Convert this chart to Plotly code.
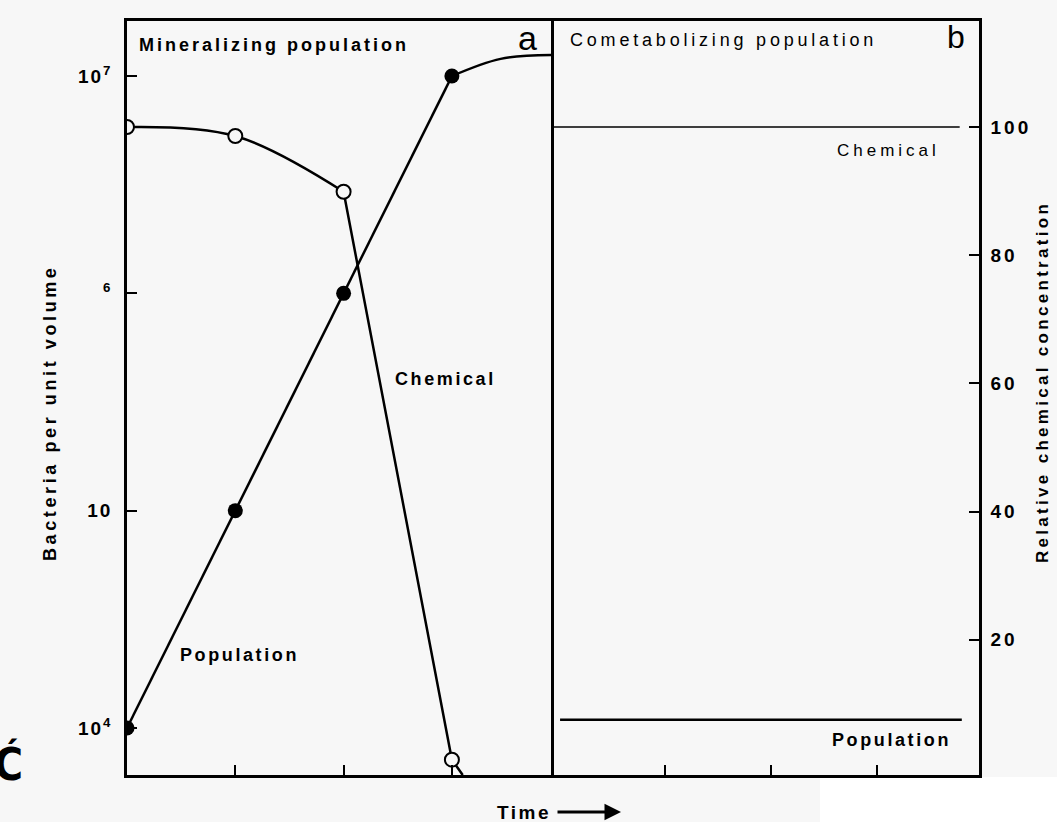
import plotly.graph_objects as go

# ---------------- data ----------------
# Panel a: mineralizing population
pop_a_time = [0, 1, 2, 3, 3.45, 3.915]
pop_a_vals = [1e4, 1e5, 1e6, 1e7, 1.2e7, 1.25e7]
pop_a_mark_time = [0, 1, 2, 3]
pop_a_mark_vals = [1e4, 1e5, 1e6, 1e7]

chem_a_time = [0, 1, 2, 3, 3.1]
chem_a_vals = [100, 98.6, 89.9, 1.3, -1.1]
chem_a_mark_time = [0, 1, 2, 3]
chem_a_mark_vals = [100, 98.6, 89.9, 1.3]

# Panel b: cometabolizing population
chem_b_time = [-0.075, 3.78]
chem_b_vals = [100, 100]
pop_b_time = [0.01, 3.8]
pop_b_vals = [1.09e4, 1.09e4]

left_tickvals = [1e4, 1e5, 1e6, 1e7]
left_ticklabels = ["10<sup>4</sup>", "10", "<sup>6</sup>", "10<sup>7</sup>"]
right_tickvals = [20, 40, 60, 80, 100]
right_ticklabels = ["20", "40", "60", "80", "100"]
time_ticks = [1, 2, 3]

# ---------------- layout geometry ----------------
FW, FH = 1057, 822
L, R, T, B = 127, 979, 21, 775
W, H = R - L, B - T
DIV = 551
da = (DIV - L) / W

BG = "#f7f7f7"
FONT = "Liberation Sans"


def px(x):
    return (x - L) / W


def py(y):
    return (B - y) / H


def sp(text, ls):
    return f'<span style="letter-spacing:{ls}px">{text}</span>'


fig = go.Figure()

line_style = dict(color="black", width=2.5)

# population (panel a): straight rise then curved plateau
fig.add_trace(go.Scatter(x=pop_a_time[:4], y=pop_a_vals[:4], xaxis="x", yaxis="y",
                         mode="lines", line=line_style,
                         showlegend=False, hoverinfo="skip"))
fig.add_trace(go.Scatter(x=pop_a_time[3:], y=pop_a_vals[3:], xaxis="x", yaxis="y",
                         mode="lines", line=dict(shape="spline", smoothing=1, **line_style),
                         showlegend=False, hoverinfo="skip"))
# chemical (panel a): curved start then straight drop
fig.add_trace(go.Scatter(x=chem_a_time[:3], y=chem_a_vals[:3], xaxis="x", yaxis="y2",
                         mode="lines", line=dict(shape="spline", smoothing=1, **line_style),
                         showlegend=False, hoverinfo="skip"))
fig.add_trace(go.Scatter(x=chem_a_time[2:], y=chem_a_vals[2:], xaxis="x", yaxis="y2",
                         mode="lines", line=line_style,
                         showlegend=False, hoverinfo="skip"))
# panel b lines
fig.add_trace(go.Scatter(x=chem_b_time, y=chem_b_vals, xaxis="x2", yaxis="y2",
                         mode="lines", line=dict(color="black", width=1.5),
                         showlegend=False, hoverinfo="skip"))
fig.add_trace(go.Scatter(x=pop_b_time, y=pop_b_vals, xaxis="x2", yaxis="y",
                         mode="lines", line=dict(color="black", width=2.5),
                         showlegend=False, hoverinfo="skip"))
# markers
fig.add_trace(go.Scatter(x=chem_a_mark_time, y=chem_a_mark_vals, xaxis="x", yaxis="y2",
                         mode="markers",
                         marker=dict(symbol="circle", size=14, color=BG,
                                     line=dict(color="black", width=2)),
                         showlegend=False, hoverinfo="skip"))
fig.add_trace(go.Scatter(x=pop_a_mark_time, y=pop_a_mark_vals, xaxis="x", yaxis="y",
                         mode="markers",
                         marker=dict(symbol="circle", size=15, color="black",
                                     line=dict(color="black", width=0)),
                         showlegend=False, hoverinfo="skip"))

axis_common = dict(showgrid=False, zeroline=False, showline=True, linecolor="black",
                   linewidth=2.5, ticks="inside", ticklen=10, tickwidth=2,
                   tickcolor="black")

fig.update_layout(
    width=FW, height=FH,
    margin=dict(l=L, r=FW - R, t=T, b=FH - B),
    paper_bgcolor=BG, plot_bgcolor=BG,
    xaxis=dict(domain=[0, da], range=[0, (DIV - L) / 108.3], tickvals=time_ticks,
               showticklabels=False, anchor="y", mirror=True, **axis_common),
    xaxis2=dict(domain=[da, 1], range=[(DIV - 559) / 106, (R - 559) / 106],
                tickvals=time_ticks, showticklabels=False, anchor="y2", mirror=True,
                **axis_common),
    yaxis=dict(type="log", range=[4 - (B - 728) / 217, 7 + (76 - T) / 217],
               tickvals=left_tickvals, ticktext=[sp(t, 2) for t in left_ticklabels],
               anchor="x", ticklabelstandoff=8, mirror=True,
               tickfont=dict(family=FONT, size=19, color="black", weight="bold"),
               **axis_common),
    yaxis2=dict(range=[-(B - 768) / 6.41, (768 - T) / 6.41], side="right",
                overlaying="y", anchor="x2", tickvals=right_tickvals,
                ticktext=[sp(t, 3) for t in right_ticklabels],
                ticklabelstandoff=5, mirror=False,
                tickfont=dict(family=FONT, size=19, color="black", weight="bold"),
                **axis_common),
    font=dict(family=FONT, color="black"),
)

ann = []
ann.append(dict(text=sp("Mineralizing population", 3.0), x=px(137), y=py(45),
                xanchor="left", yanchor="middle",
                font=dict(family=FONT, size=18, weight="bold")))
ann.append(dict(text="a", x=px(527), y=py(38), xanchor="center", yanchor="middle",
                font=dict(family=FONT, size=34)))
ann.append(dict(text=sp("Cometabolizing population", 3.8), x=px(568), y=py(40),
                xanchor="left", yanchor="middle",
                font=dict(family=FONT, size=18)))
ann.append(dict(text="b", x=px(956), y=py(37), xanchor="center", yanchor="middle",
                font=dict(family=FONT, size=32)))
ann.append(dict(text=sp("Chemical", 4), x=px(835), y=py(150), xanchor="left",
                yanchor="middle", font=dict(family=FONT, size=17)))
ann.append(dict(text=sp("Chemical", 2.6), x=px(393), y=py(379), xanchor="left",
                yanchor="middle", font=dict(family=FONT, size=18, weight="bold")))
ann.append(dict(text=sp("Population", 2.6), x=px(178), y=py(655), xanchor="left",
                yanchor="middle", font=dict(family=FONT, size=18, weight="bold")))
ann.append(dict(text=sp("Population", 2.6), x=px(830), y=py(740), xanchor="left",
                yanchor="middle", font=dict(family=FONT, size=18, weight="bold")))
ann.append(dict(text=sp("Bacteria per unit volume", 3.6), x=px(50), y=py(413),
                xanchor="center", yanchor="middle", textangle=-90,
                font=dict(family=FONT, size=18, weight="bold")))
ann.append(dict(text=sp("Relative chemical concentration", 3.3), x=px(1043), y=py(382),
                xanchor="center", yanchor="middle", textangle=-90,
                font=dict(family=FONT, size=17, weight="bold")))
ann.append(dict(text=sp("Time", 2.5), x=px(495), y=py(812), xanchor="left",
                yanchor="middle", font=dict(family=FONT, size=19, weight="bold")))
ann.append(dict(text="", x=px(621), y=py(812), ax=-65, ay=0,
                axref="pixel", ayref="pixel", showarrow=True, arrowhead=2,
                arrowsize=1.1, arrowwidth=3, arrowcolor="black"))
ann.append(dict(text="Ć", x=px(-8), y=py(764), xanchor="left", yanchor="middle",
                font=dict(family="DejaVu Sans Condensed", size=44, weight="bold")))

for a in ann:
    a.setdefault("xref", "paper")
    a.setdefault("yref", "paper")
    a.setdefault("showarrow", False)
fig.update_layout(annotations=ann)

fig.add_shape(type="rect", xref="paper", yref="paper", x0=px(820), x1=px(FW + 5),
              y0=py(777), y1=py(FH + 5), fillcolor="white", line=dict(width=0),
              layer="below")

fig.write_html("out.html", config={"displayModeBar": False},
               post_script="document.body.style.margin='0';document.body.style.overflow='hidden';")
